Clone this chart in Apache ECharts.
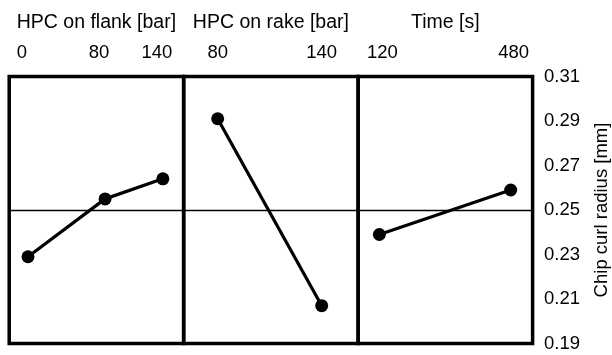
<!DOCTYPE html>
<html>
<head>
<meta charset="utf-8">
<script src="https://cdn.jsdelivr.net/npm/echarts@6/dist/echarts.min.js"></script>
<style>
  html, body { margin: 0; padding: 0; background: #fff; }
  #main { width: 612px; height: 355px; }
</style>
</head>
<body>
<div id="main"></div>
<script>
// Main-effects of each factor on chip curl radius
const factorNames = ['HPC on flank [bar]', 'HPC on rake [bar]', 'Time [s]'];
const flankLevels = [0, 80, 140];
const flankMeans = [0.229, 0.255, 0.264];
const rakeLevels = [80, 140];
const rakeMeans = [0.291, 0.207];
const timeLevels = [120, 480];
const timeMeans = [0.239, 0.259];
const overallMean = 0.25;
const yTicks = [0.19, 0.21, 0.23, 0.25, 0.27, 0.29, 0.31];
const yName = 'Chip curl radius [mm]';

const FONT = 'Liberation Sans, Arial, sans-serif';
const FS = 18.5;

const panels = [
  { levels: flankLevels, means: flankMeans, min: -19.5, max: 161.5, pad: [0, 12, 0, 0] },
  { levels: rakeLevels, means: rakeMeans, min: 60.4, max: 161, pad: [0, 0, 0, 0] },
  { levels: timeLevels, means: timeMeans, min: 62, max: 540, pad: [0, 0, 0, 6] }
];

const gridLefts = [9.2, 183.7, 358.2];
const gridW = 174.4;
const gridTop = 76.5;
const gridH = 267;

const chart = echarts.init(document.getElementById('main'), null, { renderer: 'canvas' });

const grid = gridLefts.map(l => ({
  left: l, top: gridTop, width: gridW, height: gridH,
  show: true, borderColor: '#000', borderWidth: 3.5, backgroundColor: 'transparent'
}));
// separate grid carrying the shared response axis on the right
grid.push({ left: gridLefts[2], top: gridTop, width: gridW, height: gridH, show: false });

const xAxis = panels.map((p, i) => ({
  type: 'value', gridIndex: i, position: 'top',
  min: p.min, max: p.max,
  name: factorNames[i], nameLocation: 'middle', nameGap: 44,
  nameTextStyle: { fontFamily: FONT, fontSize: 19.5, color: '#000' },
  axisLine: { show: false }, axisTick: { show: false }, splitLine: { show: false },
  axisLabel: {
    customValues: p.levels, margin: 14, padding: p.pad,
    fontFamily: FONT, fontSize: FS, color: '#000'
  }
}));
xAxis.push({ type: 'value', gridIndex: 3, show: false, min: 0, max: 1 });

const yAxis = panels.map((p, i) => ({
  type: 'value', gridIndex: i, min: 0.19, max: 0.31, show: false
}));
yAxis.push({
  type: 'value', gridIndex: 3, min: 0.19, max: 0.31,
  position: 'right',
  name: yName, nameLocation: 'middle', nameGap: 61,
  nameTextStyle: { fontFamily: FONT, fontSize: FS, color: '#000' },
  axisLine: { show: false }, axisTick: { show: false }, splitLine: { show: false },
  axisLabel: {
    customValues: yTicks, margin: 13,
    fontFamily: FONT, fontSize: FS, color: '#000',
    formatter: v => v.toFixed(2)
  }
});

const series = panels.map((p, i) => ({
  type: 'line', xAxisIndex: i, yAxisIndex: i,
  data: p.levels.map((x, k) => [x, p.means[k]]),
  symbol: 'circle', symbolSize: 13,
  lineStyle: { color: '#000', width: 3.2 },
  itemStyle: { color: '#000' },
  animation: false,
  markLine: {
    silent: true, symbol: 'none', label: { show: false },
    lineStyle: { color: '#000', width: 1.3, type: 'solid' },
    data: [{ yAxis: overallMean }]
  }
}));

chart.setOption({ animation: false, grid, xAxis, yAxis, series });
</script>
</body>
</html>
